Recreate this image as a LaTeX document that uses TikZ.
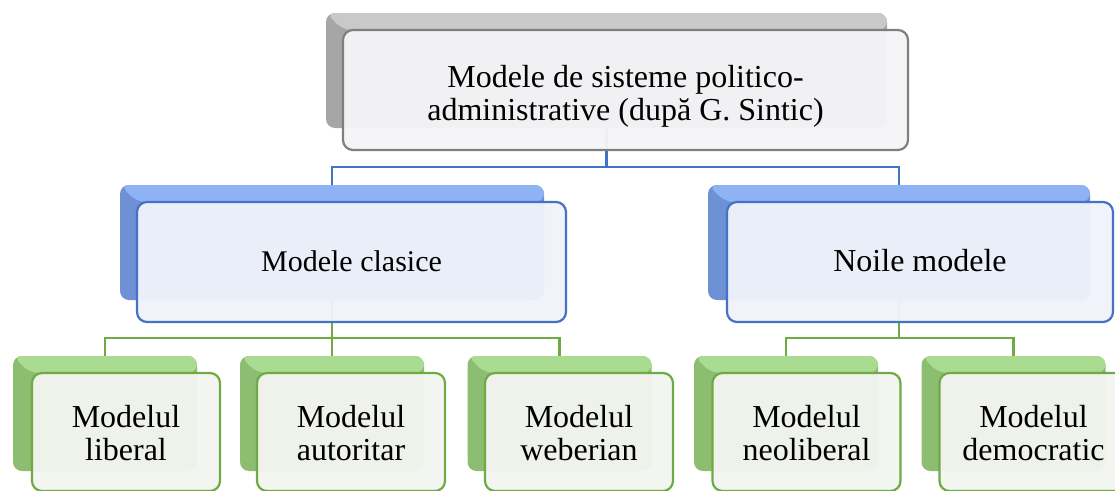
\documentclass[tikz,border=0pt]{standalone}
\usepackage{fontspec}
\setmainfont{Liberation Serif}
\definecolor{grayTop}{HTML}{C9C9C9}
\definecolor{grayLeft}{HTML}{A6A6A6}
\definecolor{grayLine}{HTML}{7F7F7F}
\definecolor{grayFill}{HTML}{F5F5F7}
\definecolor{blueTop}{HTML}{8DB3F4}
\definecolor{blueLeft}{HTML}{6E90D4}
\definecolor{blueLine}{HTML}{4472C4}
\definecolor{blueFill}{HTML}{EFF2FA}
\definecolor{greenTop}{HTML}{A9DB90}
\definecolor{greenLeft}{HTML}{8CBD70}
\definecolor{greenLine}{HTML}{6EAB45}
\definecolor{greenFill}{HTML}{F2F5EF}
\tikzset{
  backbox/.style 2 args={rectangle, rounded corners=9pt, draw=none, fill=#1, inner sep=0pt,
    path picture={\fill[#2] (path picture bounding box.north west) -- (path picture bounding box.north east)
      -- ([yshift=-17pt]path picture bounding box.north east)
      -- ([xshift=17pt,yshift=-17pt]path picture bounding box.north west) -- cycle;}},
  frontbox/.style 2 args={rectangle, rounded corners=10pt, draw=#1, line width=2.2pt, fill=#2, fill opacity=0.96, inner sep=0pt},
  conn/.style={draw=#1, line width=2.2pt},
  txt/.style={inner sep=0pt, align=center, font=\fontsize{32}{32.5}\selectfont, text=black}
}
\begin{document}
\begin{tikzpicture}[x=1pt,y=-1pt]
\useasboundingbox (0,0) rectangle (1115,490);
\clip (0,0) rectangle (1115,490);
% back boxes
\node[backbox={grayLeft}{grayTop}, minimum width=561pt, minimum height=115pt] (b0) at (606.5,70.5) {};
\node[backbox={blueLeft}{blueTop}, minimum width=424pt, minimum height=115pt] (b1) at (332,242.5) {};
\node[backbox={blueLeft}{blueTop}, minimum width=382pt, minimum height=115pt] (b2) at (899,242.5) {};
\node[backbox={greenLeft}{greenTop}, minimum width=184pt, minimum height=115pt] (l1b) at (105,413.5) {};
\node[backbox={greenLeft}{greenTop}, minimum width=184pt, minimum height=115pt] (l2b) at (332,413.5) {};
\node[backbox={greenLeft}{greenTop}, minimum width=184pt, minimum height=115pt] (l3b) at (559.5,413.5) {};
\node[backbox={greenLeft}{greenTop}, minimum width=184pt, minimum height=115pt] (l4b) at (786,413.5) {};
\node[backbox={greenLeft}{greenTop}, minimum width=184pt, minimum height=115pt] (l5b) at (1013.5,413.5) {};
% connectors
\coordinate (m0) at (606.5,167);
\coordinate (m1) at (332,338);
\coordinate (m2) at (899,338);
\draw[conn=blueLine] (b0.south) -- (m0);
\draw[conn=blueLine] (m0) -| (b1.north);
\draw[conn=blueLine] (m0) -| (b2.north);
\draw[conn=greenLine] (b1.south) -- (l2b.north);
\draw[conn=greenLine] (m1) -| (l1b.north);
\draw[conn=greenLine] (m1) -| (l3b.north);
\draw[conn=greenLine] (b2.south) -- (m2);
\draw[conn=greenLine] (m2) -| (l4b.north);
\draw[conn=greenLine] (m2) -| (l5b.north);
% front boxes
\node[frontbox={grayLine}{grayFill}, minimum width=565pt, minimum height=120pt] (f0) at (625.5,90) {};
\node[frontbox={blueLine}{blueFill}, minimum width=429pt, minimum height=120pt] (f1) at (351.5,262) {};
\node[frontbox={blueLine}{blueFill}, minimum width=386pt, minimum height=120pt] (f2) at (920,262) {};
\node[frontbox={greenLine}{greenFill}, minimum width=188pt, minimum height=118pt] (l1f) at (126,432) {};
\node[frontbox={greenLine}{greenFill}, minimum width=188pt, minimum height=118pt] (l2f) at (351,432) {};
\node[frontbox={greenLine}{greenFill}, minimum width=188pt, minimum height=118pt] (l3f) at (579,432) {};
\node[frontbox={greenLine}{greenFill}, minimum width=188pt, minimum height=118pt] (l4f) at (806.5,432) {};
\node[frontbox={greenLine}{greenFill}, minimum width=188pt, minimum height=118pt] (l5f) at (1033.5,432) {};
% texts
\node[txt] (t0) at (625.5,97.6) {\strut Modele de sisteme politico-\\\strut administrative (după G. Sintic)};
\node[txt, font=\fontsize{30}{32.5}\selectfont] (t1) at (351.5,264.6) {\strut Modele clasice};
\node[txt] (t2) at (920,264.6) {\strut Noile modele};
\node[txt] (t3) at (126,437.6) {\strut Modelul\\\strut liberal};
\node[txt] (t4) at (351,437.6) {\strut Modelul\\\strut autoritar};
\node[txt] (t5) at (579,437.6) {\strut Modelul\\\strut weberian};
\node[txt] (t6) at (806.5,437.6) {\strut Modelul\\\strut neoliberal};
\node[txt] (t7) at (1033.5,437.6) {\strut Modelul\\\strut democratic};
\end{tikzpicture}
\end{document}
